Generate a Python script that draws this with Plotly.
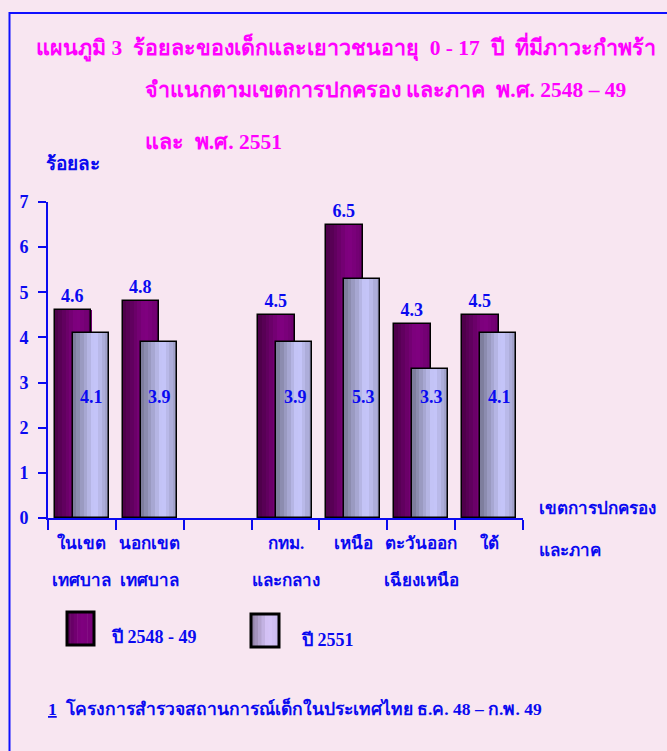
import plotly.graph_objects as go

# ---------------- data ----------------
cat_line1 = ["ในเขต", "นอกเขต", "", "กทม.", "เหนือ", "ตะวันออก", "ใต้"]
cat_line2 = ["เทศบาล", "เทศบาล", "", "และกลาง", "", "เฉียงเหนือ", ""]
categories = ["c1", "c2", "gap", "c3", "c4", "c5", "c6"]
values_2548 = [4.6, 4.8, None, 4.5, 6.5, 4.3, 4.5]
values_2551 = [4.1, 3.9, None, 3.9, 5.3, 3.3, 4.1]
series_names = ["ปี 2548 - 49", "ปี 2551"]
y_ticks = [0, 1, 2, 3, 4, 5, 6, 7]

title_lines = [
    "แผนภูมิ 3  ร้อยละของเด็กและเยาวชนอายุ  0 - 17  ปี  ที่มีภาวะกำพร้า",
    "จำแนกตามเขตการปกครอง และภาค  พ.ศ. 2548 – 49",
    "และ  พ.ศ. 2551",
]
y_title = "ร้อยละ"
x_title = ["เขตการปกครอง", "และภาค"]
footnote = "<u>1</u>  โครงการสำรวจสถานการณ์เด็กในประเทศไทย ธ.ค. 48 – ก.พ. 49"

# ---------------- style ----------------
W, H = 667, 751
L, R, T, B = 48, 523, 202, 518
BG = "#F8E6F1"
BLUE = "#0A0AF0"
MAG = "#FF00FF"
FONT = "Liberation Serif, DejaVu Serif, Noto Sans, serif"


def xp(px):
    return (px - L) / (R - L)


def yp(py):
    return (B - py) / (B - T)


def lerp_hex(stops, t):
    for (t0, c0), (t1, c1) in zip(stops, stops[1:]):
        if t0 <= t <= t1:
            f = (t - t0) / (t1 - t0) if t1 > t0 else 0
            a = [int(c0[i:i + 2], 16) for i in (1, 3, 5)]
            b = [int(c1[i:i + 2], 16) for i in (1, 3, 5)]
            return "rgb(%d,%d,%d)" % tuple(round(a[k] + (b[k] - a[k]) * f) for k in range(3))
    return stops[-1][1]


dark_stops = [(0, "#4A0046"), (0.6, "#820082"), (1, "#6C006C")]
light_stops = [(0, "#777794"), (0.6, "#CACAFF"), (1, "#9C9CC4")]
legend_dark_stops = [(0, "#5A0058"), (0.5, "#800080"), (1, "#780078")]
legend_light_stops = [(0, "#8C7CA0"), (0.6, "#D8C6FA"), (1, "#C8B8EC")]

fig = go.Figure()
N = 10


def add_bar(vals, offset, width, stops):
    for i in range(N):
        t = (i + 0.5) / N
        fig.add_trace(go.Bar(
            x=categories, y=vals, offset=offset + i * width / N, width=width / N + 0.002,
            marker=dict(color=lerp_hex(stops, t), line=dict(width=0)),
            showlegend=False, hoverinfo="skip"))


add_bar(values_2548, -0.40, 0.54, dark_stops)
fig.add_trace(go.Bar(
    x=categories, y=values_2548, offset=-0.40, width=0.54,
    marker=dict(color="rgba(0,0,0,0)", line=dict(color="#000000", width=1.5)),
    text=[("%.1f" % v) if v is not None else "" for v in values_2548],
    textposition="outside", cliponaxis=False,
    textfont=dict(family=FONT, size=18, color=BLUE, weight="bold"),
    showlegend=False, name=series_names[0]))
add_bar(values_2551, -0.135, 0.53, light_stops)
fig.add_trace(go.Bar(
    x=categories, y=values_2551, offset=-0.135, width=0.53,
    marker=dict(color="rgba(0,0,0,0)", line=dict(color="#000000", width=1.5)),
    showlegend=False, name=series_names[1]))

ann = []
# inside labels for 2551 series
for c, v in zip(categories, values_2551):
    if v is None:
        continue
    ann.append(dict(x=c, y=2.68, xref="x", yref="y", xshift=10, yanchor="middle",
                    text="<b>%.1f</b>" % v,
                    showarrow=False, font=dict(family=FONT, size=18, color=BLUE)))
# category labels
for c, l1, l2 in zip(categories, cat_line1, cat_line2):
    if l1:
        ann.append(dict(x=c, y=yp(543), xref="x", yref="paper", yanchor="middle",
                        text="<b>%s</b>" % l1,
                        showarrow=False, font=dict(family=FONT, size=17, color=BLUE)))
    if l2:
        ann.append(dict(x=c, y=yp(580), xref="x", yref="paper", yanchor="middle",
                        text="<b>%s</b>" % l2,
                        showarrow=False, font=dict(family=FONT, size=17, color=BLUE)))
# titles
for txt, x0, y0 in zip(title_lines, [34, 143, 143], [47, 90, 142]):
    ann.append(dict(x=xp(x0), y=yp(y0), xref="paper", yref="paper", xanchor="left",
                    yanchor="middle", text="<b>%s</b>" % txt, showarrow=False,
                    font=dict(family=FONT, size=21.5, color=MAG)))
ann.append(dict(x=xp(44), y=yp(163), xref="paper", yref="paper", xanchor="left",
                yanchor="middle", text="<b>%s</b>" % y_title, showarrow=False,
                font=dict(family=FONT, size=19, color=BLUE)))
for txt, y0 in zip(x_title, [508, 550]):
    ann.append(dict(x=xp(537), y=yp(y0), xref="paper", yref="paper", xanchor="left",
                    yanchor="middle", text="<b>%s</b>" % txt, showarrow=False,
                    font=dict(family=FONT, size=17, color=BLUE)))
# legend labels
for txt, x0, y0 in zip(series_names, [109, 299], [637, 640]):
    ann.append(dict(x=xp(x0), y=yp(y0), xref="paper", yref="paper", xanchor="left",
                    yanchor="middle", text="<b>%s</b>" % txt, showarrow=False,
                    font=dict(family=FONT, size=18, color=BLUE)))
ann.append(dict(x=xp(46), y=yp(708), xref="paper", yref="paper", xanchor="left",
                yanchor="middle", text="<b>%s</b>" % footnote, showarrow=False,
                font=dict(family=FONT, size=17.5, color=BLUE)))

shapes = [
    dict(type="rect", xref="paper", yref="paper", x0=xp(9.5), x1=xp(700), y0=yp(13), y1=yp(800),
         line=dict(color="#1010FF", width=2), fillcolor="rgba(0,0,0,0)", layer="below"),
]


def legend_swatch(x0, x1, y0, y1, stops, n=8):
    for i in range(n):
        t = (i + 0.5) / n
        shapes.append(dict(type="rect", xref="paper", yref="paper",
                           x0=xp(x0 + (x1 - x0) * i / n), x1=xp(x0 + (x1 - x0) * (i + 1) / n + 0.5),
                           y0=yp(y0), y1=yp(y1), line=dict(width=0),
                           fillcolor=lerp_hex(stops, t)))
    shapes.append(dict(type="rect", xref="paper", yref="paper", x0=xp(x0), x1=xp(x1),
                       y0=yp(y0), y1=yp(y1), line=dict(color="#000000", width=3),
                       fillcolor="rgba(0,0,0,0)"))


legend_swatch(67, 94, 612, 645, legend_dark_stops)
legend_swatch(251, 279, 614, 647, legend_light_stops)

fig.update_layout(
    width=W, height=H, autosize=False,
    margin=dict(l=L, r=W - R, t=T, b=H - B, pad=0),
    paper_bgcolor=BG, plot_bgcolor=BG,
    barmode="overlay", bargap=0,
    annotations=ann, shapes=shapes,
    showlegend=False,
    xaxis=dict(type="category", range=[-0.5, 6.5], showticklabels=False,
               tickson="boundaries", ticks="outside", ticklen=10, tickwidth=2,
               tickcolor=BLUE, showline=True, linecolor=BLUE, linewidth=2,
               showgrid=False, zeroline=False, fixedrange=True),
    yaxis=dict(range=[0, 7], tickvals=y_ticks, ticks="outside", ticklen=8, tickwidth=2,
               tickcolor=BLUE, showline=True, linecolor=BLUE, linewidth=2,
               showgrid=False, zeroline=False, ticklabelstandoff=6,
               tickfont=dict(family=FONT, size=18, color=BLUE, weight="bold"),
               fixedrange=True),
)

fig.write_html(
    "out.html",
    config={"displayModeBar": False},
    post_script="document.body.style.margin='0px';document.body.style.backgroundColor='%s';" % BG,
)
